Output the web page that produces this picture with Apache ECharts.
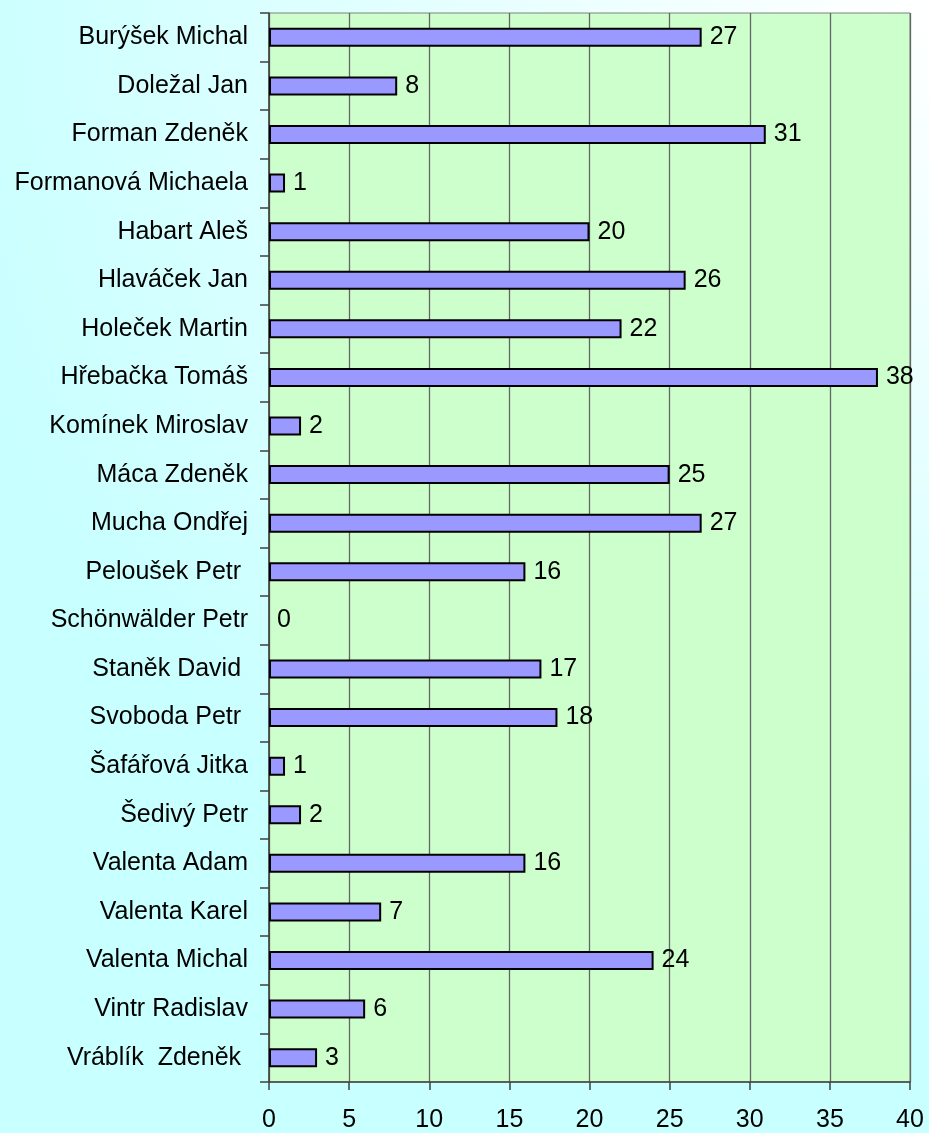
<!DOCTYPE html>
<html>
<head>
<meta charset="utf-8">
<script src="https://cdn.jsdelivr.net/npm/echarts@6/dist/echarts.min.js"></script>
<style>
  html, body { margin: 0; padding: 0; }
  #chart { width: 929px; height: 1133px; }
</style>
</head>
<body>
<div id="chart"></div>
<script>
// jmena hracu (mezery na konci jsou i v originale)
var names = [
  "Burýšek Michal", "Doležal Jan", "Forman Zdeněk", "Formanová Michaela",
  "Habart Aleš", "Hlaváček Jan", "Holeček Martin", "Hřebačka Tomáš",
  "Komínek Miroslav", "Máca Zdeněk", "Mucha Ondřej", "Peloušek Petr ",
  "Schönwälder Petr", "Staněk David ", "Svoboda Petr ", "Šafářová Jitka",
  "Šedivý Petr", "Valenta Adam", "Valenta Karel", "Valenta Michal",
  "Vintr Radislav", "Vráblík  Zdeněk "
];
var counts = [27, 8, 31, 1, 20, 26, 22, 38, 2, 25, 27, 16, 0, 17, 18, 1, 2, 16, 7, 24, 6, 3];
var xTicks = { min: 0, max: 40, step: 5 };

var font = "Liberation Sans, Arial, sans-serif";

// nulovy sloupec se v originale nekresli, jen popisek
var barData = counts.map(function (v) {
  return v === 0 ? { value: v, itemStyle: { borderWidth: 0 } } : v;
});

var myChart = echarts.init(document.getElementById("chart"));
myChart.setOption({
  animation: false,
  backgroundColor: new echarts.graphic.RadialGradient(1, 0, 1.1, [
    { offset: 0, color: "#ffffff" },
    { offset: 1, color: "#c8ffff" }
  ]),
  grid: {
    left: 269, top: 13, width: 641, height: 1070,
    show: true, backgroundColor: "#ccffcc", borderColor: "#808080", borderWidth: 1
  },
  xAxis: {
    type: "value",
    min: xTicks.min, max: xTicks.max, interval: xTicks.step,
    axisLine: { show: true, lineStyle: { color: "#404040", width: 1.5 } },
    axisTick: { show: true, length: 8, lineStyle: { color: "#404040", width: 1.5 } },
    splitLine: { show: true, lineStyle: { color: "#666666", width: 1.3 } },
    axisLabel: { fontFamily: font, fontSize: 25, color: "#000", margin: 26 }
  },
  yAxis: {
    type: "category",
    data: names,
    inverse: true,
    axisLine: { show: true, lineStyle: { color: "#404040", width: 1.5 } },
    axisTick: { show: true, length: 9, lineStyle: { color: "#404040", width: 1.5 } },
    axisLabel: { fontFamily: font, fontSize: 25, color: "#000", margin: 21, interval: 0 }
  },
  series: [{
    type: "bar",
    data: barData,
    barWidth: 19,
    itemStyle: { color: "#9999ff", borderColor: "#000", borderWidth: 2 },
    label: {
      show: true, position: "right", distance: 8,
      fontFamily: font, fontSize: 25, color: "#000"
    }
  }]
});
</script>
</body>
</html>
